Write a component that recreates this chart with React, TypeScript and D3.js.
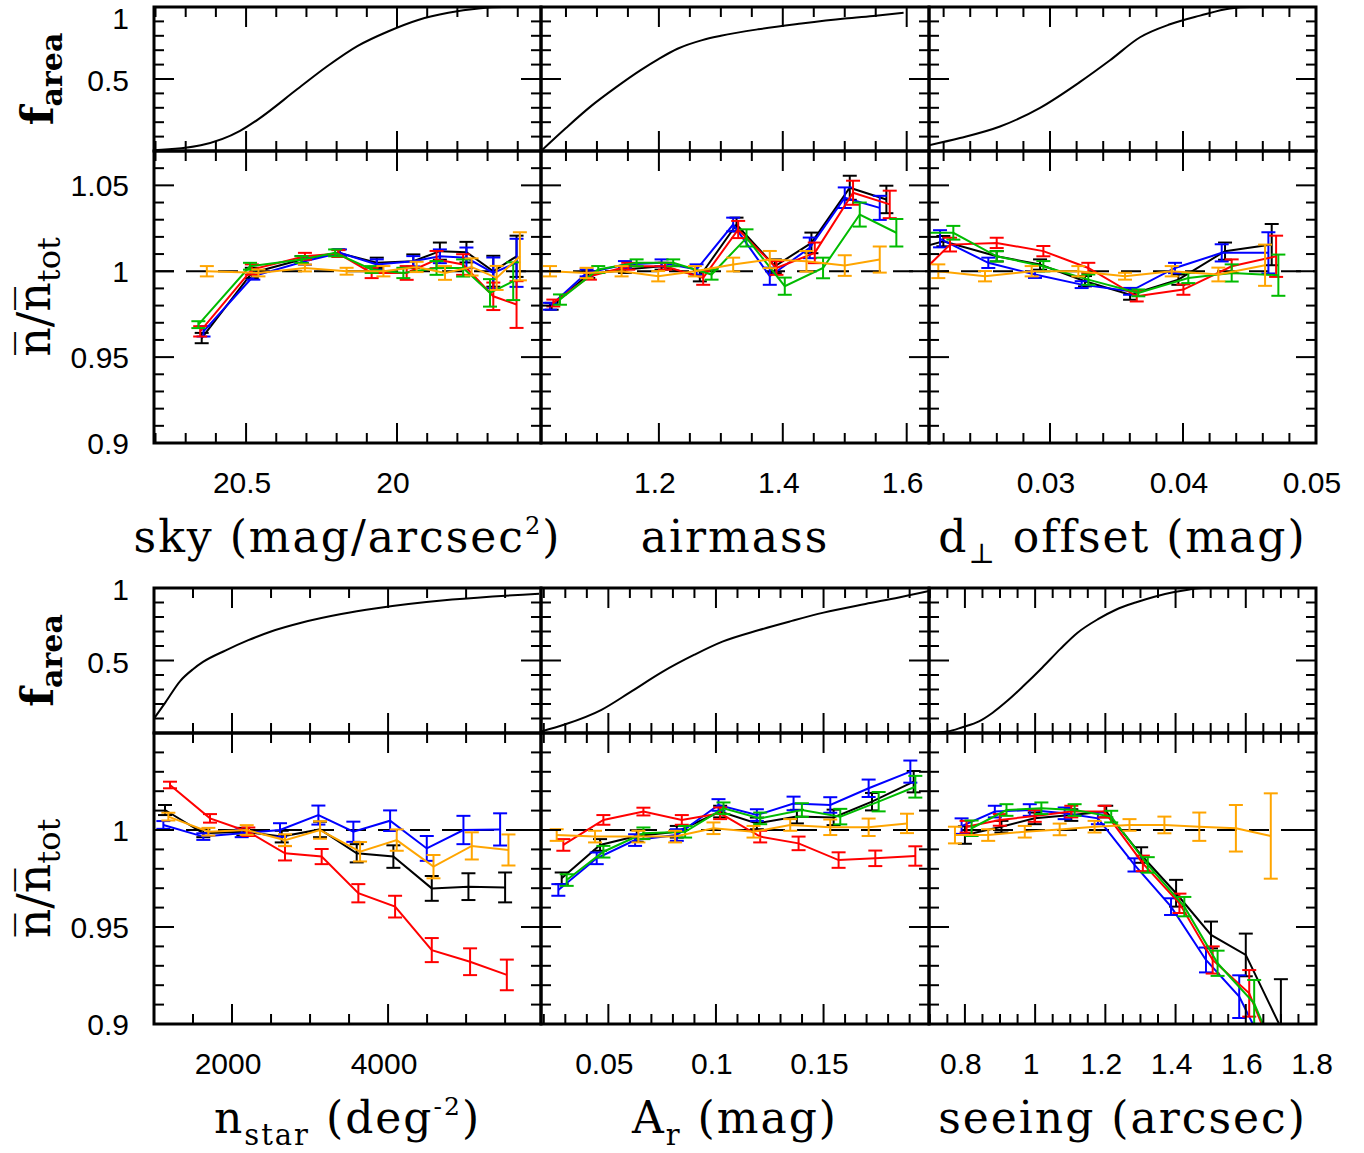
import React from 'react';
import * as d3 from 'd3';

type P3 = [number, number, number];
type P2 = [number, number];

// ---------- f_area curves ----------
const skyArea: P2[] = [[20.805,0.005],[20.65,0.04],[20.52,0.14],[20.46,0.22],[20.33,0.43],[20.23,0.59],[20.13,0.73],[20.03,0.83],[19.93,0.91],[19.83,0.96],[19.73,0.99],[19.65,1.0],[19.523,1.0]];
const airmassArea: P2[] = [[1.0097,0.0],[1.05,0.16],[1.09,0.31],[1.13,0.44],[1.17,0.56],[1.2,0.64],[1.23,0.71],[1.27,0.77],[1.30,0.80],[1.36,0.845],[1.43,0.885],[1.50,0.92],[1.55,0.94],[1.595,0.96]];
const dperpArea: P2[] = [[0.0209,0.04],[0.02323,0.09],[0.02624,0.17],[0.02925,0.30],[0.03226,0.48],[0.03451,0.63],[0.03677,0.79],[0.03902,0.88],[0.04128,0.94],[0.04353,0.99],[0.04504,1.0],[0.05,1.0]];
const nstarArea: P2[] = [[1000,0.10],[1145,0.21],[1338,0.36],[1500,0.44],[1628,0.49],[1920,0.57],[2209,0.64],[2500,0.70],[2887,0.76],[3400,0.82],[3854,0.86],[4820,0.92],[5935,0.96]];
const arArea: P2[] = [[0.0187,0.01],[0.03,0.06],[0.0468,0.16],[0.06,0.28],[0.0749,0.42],[0.09,0.54],[0.103,0.63],[0.12,0.71],[0.1345,0.77],[0.15,0.83],[0.1695,0.89],[0.185,0.935],[0.199,0.98]];
const seeingArea: P2[] = [[0.6977,0.0],[0.75,0.01],[0.793,0.04],[0.84,0.08],[0.879,0.14],[0.92,0.22],[0.965,0.32],[1.02,0.45],[1.072,0.58],[1.12,0.69],[1.179,0.785],[1.23,0.85],[1.286,0.9],[1.34,0.94],[1.393,0.97],[1.44,0.99],[1.479,1.0],[1.797,1.0]];

// ---------- n / n_tot : [x, value, error] ----------
const skyBlack: P3[] = [[20.647,0.9611,0.003],[20.481,0.9990,0.003],[20.316,1.0068,0.002],[20.194,1.0107,0.002],[20.067,1.0049,0.003],[19.946,1.0058,0.004],[19.858,1.0117,0.005],[19.770,1.0111,0.006],[19.681,1.0000,0.009],[19.604,1.0087,0.012]];
const skyRed: P3[] = [[20.652,0.9650,0.003],[20.481,1.0010,0.003],[20.305,1.0087,0.002],[20.194,1.0103,0.002],[20.084,0.9990,0.003],[19.968,0.9990,0.004],[19.869,1.0068,0.005],[19.781,1.0039,0.006],[19.681,0.9854,0.008],[19.604,0.9806,0.0136]];
const skyBlue: P3[] = [[20.641,0.9650,0.003],[20.476,0.9971,0.002],[20.305,1.0058,0.002],[20.189,1.0107,0.002],[20.067,1.0039,0.003],[19.946,1.0058,0.003],[19.858,1.0087,0.004],[19.770,1.0078,0.006],[19.681,0.9990,0.009],[19.604,1.0049,0.014]];
const skyGreen: P3[] = [[20.658,0.9689,0.002],[20.487,1.0029,0.002],[20.316,1.0068,0.002],[20.205,1.0107,0.002],[20.084,1.0010,0.002],[19.979,0.9990,0.003],[19.869,1.0019,0.004],[19.781,1.0019,0.005],[19.692,0.9874,0.008],[19.615,0.9942,0.011]];
const skyOrange: P3[] = [[20.630,1.0000,0.003],[20.459,0.9990,0.002],[20.305,1.0019,0.002],[20.167,1.0000,0.002],[20.045,1.0000,0.003],[19.935,1.0025,0.003],[19.841,0.9990,0.004],[19.753,1.0025,0.005],[19.670,0.9961,0.007],[19.593,1.0087,0.014]];

const airBlack: P3[] = [[1.0269,0.9796,0.002],[1.0860,0.9981,0.002],[1.1452,1.0010,0.002],[1.2043,1.0029,0.002],[1.2661,0.9971,0.003],[1.3253,1.0272,0.004],[1.3871,1.0029,0.004],[1.4462,1.0165,0.006],[1.5081,1.0486,0.007],[1.5672,1.0418,0.008]];
const airRed: P3[] = [[1.0296,0.9815,0.002],[1.0887,0.9971,0.002],[1.1505,1.0029,0.002],[1.2097,1.0029,0.002],[1.2715,0.9961,0.004],[1.3280,1.0243,0.005],[1.3898,1.0019,0.004],[1.4516,1.0107,0.006],[1.5134,1.0457,0.007],[1.5726,1.0389,0.008]];
const airBlue: P3[] = [[1.0242,0.9796,0.002],[1.0833,0.9990,0.002],[1.1452,1.0039,0.002],[1.2043,1.0049,0.002],[1.2608,1.0010,0.003],[1.3199,1.0272,0.004],[1.3790,0.9971,0.005],[1.4435,1.0136,0.006],[1.5000,1.0428,0.006],[1.5565,1.0369,0.007]];
const airGreen: P3[] = [[1.0403,0.9835,0.003],[1.1021,1.0010,0.002],[1.1640,1.0049,0.002],[1.2231,1.0049,0.002],[1.2850,0.9981,0.003],[1.3414,1.0194,0.005],[1.4032,0.9913,0.005],[1.4650,1.0019,0.006],[1.5242,1.0330,0.007],[1.5833,1.0224,0.008]];
const airOrange: P3[] = [[1.0242,1.0000,0.003],[1.0833,0.9990,0.003],[1.1398,1.0000,0.003],[1.1989,0.9971,0.003],[1.2581,1.0000,0.003],[1.3199,1.0039,0.004],[1.3790,1.0068,0.005],[1.4382,1.0058,0.006],[1.5000,1.0033,0.006],[1.5565,1.0068,0.0076]];

const dBlack: P3[] = [[0.0195,1.012,0.003],[0.02198,1.0175,0.003],[0.02599,1.0087,0.003],[0.02925,1.0039,0.003],[0.03263,0.9942,0.003],[0.03602,0.9864,0.003],[0.03965,0.9951,0.003],[0.04316,1.0117,0.005],[0.04667,1.0155,0.012]];
const dRed: P3[] = [[0.0198,0.9951,0.003],[0.02248,1.0155,0.004],[0.02599,1.0165,0.003],[0.02950,1.0117,0.003],[0.03288,1.0019,0.003],[0.03652,0.9854,0.003],[0.04003,0.9893,0.003],[0.04366,1.0029,0.004],[0.04700,1.0087,0.012]];
const dBlue: P3[] = [[0.02173,1.0189,0.005],[0.02536,1.0049,0.003],[0.02887,0.9981,0.002],[0.03238,0.9922,0.002],[0.03602,0.9883,0.002],[0.03940,1.0019,0.003],[0.04291,1.0107,0.005],[0.04642,1.0107,0.012]];
const dGreen: P3[] = [[0.0195,1.0224,0.003],[0.02273,1.0224,0.004],[0.02599,1.0087,0.003],[0.02950,1.0029,0.003],[0.03288,0.9951,0.003],[0.03664,0.9874,0.002],[0.04040,0.9961,0.003],[0.04366,0.9990,0.005],[0.04717,0.9977,0.012]];
const dOrange: P3[] = [[0.02160,1.0000,0.004],[0.02511,0.9971,0.003],[0.02862,1.0000,0.003],[0.03213,1.0000,0.003],[0.03564,0.9971,0.002],[0.03915,1.0000,0.003],[0.04266,0.9981,0.004],[0.04617,1.0035,0.012]];

const nBlack: P3[] = [[1141,1.0103,0.0026],[1632,0.9983,0.002],[2145,0.9991,0.002],[2637,0.9966,0.003],[3128,1.0003,0.004],[3598,0.9880,0.0047],[4068,0.9863,0.0058],[4560,0.9699,0.0064],[5030,0.9708,0.0069],[5500,0.9704,0.0077]];
const nRed: P3[] = [[1205,1.0232,0.0017],[1718,1.0060,0.0022],[2209,0.9991,0.0022],[2679,0.9880,0.0037],[3149,0.9863,0.0039],[3619,0.9674,0.0047],[4090,0.9605,0.0056],[4560,0.9381,0.0062],[5051,0.9321,0.0069],[5522,0.9253,0.0079]];
const nBlue: P3[] = [[1120,1.0026,0.002],[1632,0.9966,0.0017],[2124,0.9983,0.002],[2615,1.0000,0.0035],[3107,1.0077,0.0049],[3555,0.9991,0.0052],[4026,1.0048,0.0053],[4496,0.9905,0.0064],[4966,1.0000,0.0073],[5436,1.0003,0.0083]];
const nOrange: P3[] = [[1184,1.0069,0.002],[1697,0.9991,0.002],[2188,1.0000,0.0025],[2679,0.9948,0.003],[3128,1.0000,0.0045],[3641,0.9888,0.005],[4111,0.9948,0.0055],[4582,0.9811,0.006],[5073,0.9918,0.007],[5543,0.9897,0.008]];

const arBlack: P3[] = [[0.02831,0.9751,0.003],[0.04614,0.9923,0.003],[0.06320,0.9969,0.003],[0.08180,0.9991,0.003],[0.10195,1.0095,0.003],[0.11901,1.0034,0.003],[0.13761,1.0069,0.0035],[0.15467,1.0065,0.004],[0.17250,1.0146,0.0045],[0.19188,1.0249,0.0055]];
const arRed: P3[] = [[0.02908,0.9923,0.003],[0.04769,1.0052,0.0025],[0.06629,1.0095,0.002],[0.08413,1.0052,0.0025],[0.10195,1.0086,0.003],[0.12056,0.9966,0.003],[0.13839,0.9931,0.0035],[0.15699,0.9845,0.004],[0.17405,0.9854,0.004],[0.19265,0.9866,0.005]];
const arBlue: P3[] = [[0.02676,0.9691,0.003],[0.04459,0.9854,0.003],[0.06242,0.9948,0.003],[0.08180,0.9974,0.003],[0.10118,1.0129,0.003],[0.11901,1.0077,0.003],[0.13606,1.0137,0.0035],[0.15312,1.0129,0.004],[0.17095,1.0215,0.0045],[0.19033,1.0301,0.0057]];
const arGreen: P3[] = [[0.03064,0.9742,0.003],[0.04769,0.9888,0.003],[0.06629,0.9983,0.003],[0.08567,0.9991,0.003],[0.10350,1.0112,0.003],[0.12056,1.0060,0.003],[0.13994,1.0103,0.0035],[0.15777,1.0069,0.004],[0.17560,1.0146,0.005],[0.19265,1.0223,0.0056]];
const arOrange: P3[] = [[0.02599,0.9974,0.003],[0.04381,0.9966,0.003],[0.06397,0.9966,0.003],[0.08102,0.9966,0.003],[0.09885,1.0009,0.003],[0.11746,0.9991,0.003],[0.13451,1.0026,0.003],[0.15312,1.0014,0.004],[0.17095,1.0014,0.0045],[0.18878,1.0034,0.005]];

const seeBlack: P3[] = [[0.800,0.9974,0.0045],[0.904,1.0017,0.003],[0.999,1.0060,0.003],[1.103,1.0077,0.003],[1.2025,1.0095,0.003],[1.302,0.9871,0.004],[1.4015,0.9674,0.0069],[1.501,0.9459,0.0069],[1.600,0.9356,0.011],[1.700,0.8981,0.025]];
const seeRed: P3[] = [[0.8047,1.0017,0.003],[0.8994,1.0052,0.003],[0.9989,1.0072,0.003],[1.1030,1.0095,0.003],[1.1977,1.0095,0.003],[1.3068,0.9828,0.004],[1.4110,0.9622,0.005],[1.5057,0.9330,0.007],[1.6098,0.9158,0.012],[1.690,0.880,0.02]];
const seeBlue: P3[] = [[0.7905,1.0020,0.004],[0.8852,1.0095,0.003],[0.9847,1.0103,0.003],[1.0841,1.0086,0.003],[1.1788,1.0060,0.003],[1.2830,0.9820,0.0034],[1.3871,0.9605,0.0043],[1.4866,0.9330,0.0064],[1.5813,0.9141,0.011],[1.676,0.8797,0.02]];
const seeGreen: P3[] = [[0.819,1.0009,0.004],[0.9184,1.0103,0.003],[1.0178,1.0112,0.003],[1.1125,1.0103,0.003],[1.2167,1.0069,0.003],[1.3208,0.9820,0.004],[1.425,0.9605,0.005],[1.5197,0.9313,0.0065],[1.6239,0.9107,0.012],[1.7044,0.876,0.02]];
const seeOrange: P3[] = [[0.7716,0.9974,0.0043],[0.8663,0.9974,0.003],[0.9705,0.9991,0.003],[1.0699,1.0003,0.003],[1.1693,1.0017,0.003],[1.2688,1.0026,0.003],[1.3682,1.0026,0.0043],[1.4676,1.0017,0.0073],[1.5718,1.0009,0.012],[1.6712,0.9969,0.022]];

// ---------- axes ----------
const skyTicks = [20.5, 20];
const skyTickLabels = ['20.5', '20'];
const airTicks = [1.2, 1.4, 1.6];
const airTickLabels = ['1.2', '1.4', '1.6'];
const dTicks = [0.03, 0.04, 0.05];
const dTickLabels = ['0.03', '0.04', '0.05'];
const nTicks = [2000, 4000];
const nTickLabels = ['2000', '4000'];
const arTicks = [0.05, 0.1, 0.15];
const arTickLabels = ['0.05', '0.1', '0.15'];
const seeTicks = [0.8, 1, 1.2, 1.4, 1.6, 1.8];
const seeTickLabels = ['0.8', '1', '1.2', '1.4', '1.6', '1.8'];

const areaTicks = [1, 0.5];
const areaTickLabels = ['1', '0.5'];
const ratioTicksTop = [1.05, 1, 0.95, 0.9];
const ratioTickLabelsTop = ['1.05', '1', '0.95', '0.9'];
const ratioTicksBottom = [1, 0.95, 0.9];
const ratioTickLabelsBottom = ['1', '0.95', '0.9'];

const COLORS = { black: '#000000', red: '#ff0000', blue: '#0000ff', green: '#00bb00', orange: '#ffa500' };

const COLS = [154, 541, 929, 1316];
const BLOCKS = [
  { fTop: 7, split: 151, bottom: 443, ratioDomain: [0.9, 1.07], tickLabelY: 493, titleY: 552, yTicks: ratioTicksTop, yTickLabels: ratioTickLabelsTop },
  { fTop: 588, split: 733, bottom: 1024, ratioDomain: [0.9, 1.05], tickLabelY: 1074, titleY: 1133, yTicks: ratioTicksBottom, yTickLabels: ratioTickLabelsBottom },
];

const SERIF = '"DejaVu Serif", serif';
const SANS = '"Liberation Sans", Arial, sans-serif';
const TITLE_SIZE = 44;

const titles: Record<string, React.ReactNode> = {
  sky: (<>sky (mag/arcsec<tspan fontSize={24} dy={-18}>2</tspan><tspan dy={18}>)</tspan></>),
  air: (<>airmass</>),
  d: (<>d<tspan fontSize={28} dy={11}>⊥</tspan><tspan dy={-11}> offset (mag)</tspan></>),
  n: (<>n<tspan fontSize={29} dy={12}>star</tspan><tspan dy={-12}> (deg</tspan><tspan fontSize={25} dy={-18}>-2</tspan><tspan dy={18}>)</tspan></>),
  ar: (<>A<tspan fontSize={29} dy={12}>r</tspan><tspan dy={-12}> (mag)</tspan></>),
  see: (<>seeing (arcsec)</>),
};

const panels = [
  { block: 0, col: 0, domain: [20.805, 19.523], minor: 0.1, ticks: skyTicks, labels: skyTickLabels, area: skyArea, title: 'sky',
    series: [[skyBlack, 'black'], [skyBlue, 'blue'], [skyRed, 'red'], [skyGreen, 'green'], [skyOrange, 'orange']] },
  { block: 0, col: 1, domain: [1.0097, 1.636], minor: 0.05, ticks: airTicks, labels: airTickLabels, area: airmassArea, title: 'air',
    series: [[airBlack, 'black'], [airBlue, 'blue'], [airRed, 'red'], [airGreen, 'green'], [airOrange, 'orange']] },
  { block: 0, col: 2, domain: [0.0209, 0.05], minor: 0.002, ticks: dTicks, labels: dTickLabels, area: dperpArea, title: 'd',
    series: [[dBlack, 'black'], [dBlue, 'blue'], [dRed, 'red'], [dGreen, 'green'], [dOrange, 'orange']] },
  { block: 1, col: 0, domain: [1000, 5960], minor: 500, ticks: nTicks, labels: nTickLabels, area: nstarArea, title: 'n',
    series: [[nBlack, 'black'], [nBlue, 'blue'], [nRed, 'red'], [nOrange, 'orange']] },
  { block: 1, col: 1, domain: [0.0187, 0.199], minor: 0.01, ticks: arTicks, labels: arTickLabels, area: arArea, title: 'ar',
    series: [[arBlack, 'black'], [arBlue, 'blue'], [arRed, 'red'], [arGreen, 'green'], [arOrange, 'orange']] },
  { block: 1, col: 2, domain: [0.6977, 1.8], minor: 0.05, ticks: seeTicks, labels: seeTickLabels, area: seeingArea, title: 'see',
    series: [[seeBlack, 'black'], [seeBlue, 'blue'], [seeRed, 'red'], [seeGreen, 'green'], [seeOrange, 'orange']] },
];

function multiples(lo: number, hi: number, step: number) {
  const a = Math.min(lo, hi), b = Math.max(lo, hi);
  const out: number[] = [];
  for (let k = Math.ceil(a / step - 1e-6); k <= Math.floor(b / step + 1e-6); k++) out.push(k * step);
  return out;
}

function isMajor(v: number, majors: number[], tol: number) {
  return majors.some((m) => Math.abs(m - v) < tol);
}

const MAJ = 20, MIN = 10;

function Frame({ x, y, xMajors, xMinor, yMajors, yMinor, x0, x1, y0, y1 }: any) {
  const xd = x.domain(), yd = y.domain();
  const xs = multiples(xd[0], xd[1], xMinor);
  const ys = multiples(yd[0], yd[1], yMinor);
  const lines: React.ReactNode[] = [];
  xs.forEach((v, i) => {
    const px = x(v);
    const L = isMajor(v, xMajors, xMinor * 0.3) ? MAJ : MIN;
    lines.push(<line key={'xb' + i} x1={px} x2={px} y1={y1} y2={y1 - L} />);
    lines.push(<line key={'xt' + i} x1={px} x2={px} y1={y0} y2={y0 + L} />);
  });
  ys.forEach((v, i) => {
    const py = y(v);
    const L = isMajor(v, yMajors, yMinor * 0.3) ? MAJ : MIN;
    lines.push(<line key={'yl' + i} x1={x0} x2={x0 + L} y1={py} y2={py} />);
    lines.push(<line key={'yr' + i} x1={x1} x2={x1 - L} y1={py} y2={py} />);
  });
  return (
    <g>
      <g stroke="#000" strokeWidth={2}>{lines}</g>
      <rect x={x0} y={y0} width={x1 - x0} height={y1 - y0} fill="none" stroke="#000" strokeWidth={3} />
    </g>
  );
}

function Panel({ cfg, id }: any) {
  const b = BLOCKS[cfg.block];
  const x0 = COLS[cfg.col], x1 = COLS[cfg.col + 1];
  const x = d3.scaleLinear().domain(cfg.domain).range([x0, x1]);
  const yA = d3.scaleLinear().domain([0, 1]).range([b.split, b.fTop]);
  const yR = d3.scaleLinear().domain(b.ratioDomain).range([b.bottom, b.split]);
  const areaLine = d3.line<P2>().x((d) => x(d[0])).y((d) => yA(d[1])).curve(d3.curveMonotoneX);
  const serLine = d3.line<P3>().x((d) => x(d[0])).y((d) => yR(d[1]));
  const ca = `clipA${id}`, cr = `clipR${id}`;
  const cx = (x0 + x1) / 2;
  return (
    <g>
      <defs>
        <clipPath id={ca}><rect x={x0} y={b.fTop} width={x1 - x0} height={b.split - b.fTop} /></clipPath>
        <clipPath id={cr}><rect x={x0} y={b.split} width={x1 - x0} height={b.bottom - b.split} /></clipPath>
      </defs>
      <g clipPath={`url(#${ca})`}>
        <path d={areaLine(cfg.area) || ''} fill="none" stroke="#000" strokeWidth={2} />
      </g>
      <g clipPath={`url(#${cr})`}>
        <line x1={x0} x2={x1} y1={yR(1)} y2={yR(1)} stroke="#000" strokeWidth={2} strokeDasharray="20 12" />
        {cfg.series.map(([data, col]: [P3[], string], si: number) => {
          const c = (COLORS as any)[col];
          return (
            <g key={si} stroke={c} strokeWidth={2} fill="none">
              <path d={serLine(data) || ''} />
              {data.map((d, k) => {
                const px = x(d[0]);
                const ya = yR(d[1] - d[2]), yb = yR(d[1] + d[2]);
                return (
                  <g key={k}>
                    <line x1={px} x2={px} y1={ya} y2={yb} />
                    <line x1={px - 7} x2={px + 7} y1={ya} y2={ya} />
                    <line x1={px - 7} x2={px + 7} y1={yb} y2={yb} />
                  </g>
                );
              })}
            </g>
          );
        })}
      </g>
      <Frame x={x} y={yA} xMajors={cfg.ticks} xMinor={cfg.minor} yMajors={[0, 0.5, 1]} yMinor={0.1} x0={x0} x1={x1} y0={b.fTop} y1={b.split} />
      <Frame x={x} y={yR} xMajors={cfg.ticks} xMinor={cfg.minor} yMajors={[0.9, 0.95, 1, 1.05]} yMinor={0.01} x0={x0} x1={x1} y0={b.split} y1={b.bottom} />
      <g fontFamily={SANS} fontSize={30} textAnchor="middle" fill="#000">
        {cfg.ticks.map((t: number, i: number) => (
          <text key={i} x={x(t) - 4} y={b.tickLabelY}>{cfg.labels[i]}</text>
        ))}
      </g>
      {cfg.col === 0 && (
        <g fontFamily={SANS} fontSize={30} textAnchor="end" fill="#000">
          {areaTicks.map((t, i) => (
            <text key={'a' + i} x={129} y={Math.max(yA(t) + 12, 29)}>{areaTickLabels[i]}</text>
          ))}
          {b.yTicks.map((t: number, i: number) => (
            <text key={'r' + i} x={129} y={yR(t) + 11}>{b.yTickLabels[i]}</text>
          ))}
        </g>
      )}
      <text x={cx} y={b.titleY} fontFamily={SERIF} fontSize={TITLE_SIZE} textAnchor="middle" letterSpacing={2} fill="#000">
        {titles[cfg.title]}
      </text>
    </g>
  );
}

function YTitles({ b }: any) {
  const fa = (b.fTop + b.split) / 2;
  const rr = (b.split + b.bottom) / 2;
  return (
    <g fontFamily={SERIF} fill="#000">
      <text transform={`translate(53,${fa}) rotate(-90)`} textAnchor="middle" fontSize={44} fontWeight="bold">
        f<tspan fontSize={30} dy={9}>area</tspan>
      </text>
      <text transform={`translate(50,${rr}) rotate(-90)`} textAnchor="middle" fontSize={46}>
        {'n\u0305/n\u0305'}<tspan fontSize={32} dy={10}>tot</tspan>
      </text>
    </g>
  );
}

export default function App() {
  return (
    <svg width={1364} height={1153} style={{ position: 'absolute', left: 0, top: 0, background: '#fff' }}>
      {panels.map((p, i) => <Panel key={i} cfg={p} id={i} />)}
      {BLOCKS.map((b, i) => <YTitles key={i} b={b} />)}
    </svg>
  );
}
